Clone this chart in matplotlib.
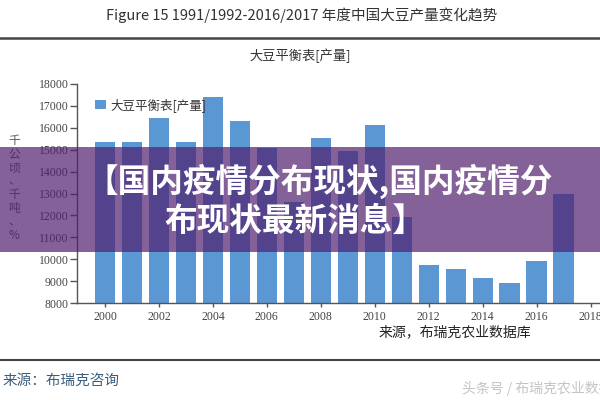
import matplotlib
matplotlib.use("Agg")
import matplotlib.pyplot as plt
from matplotlib.patches import Rectangle

plt.rcParams['font.family'] = ['Noto Sans CJK SC', 'DejaVu Sans']

years = list(range(2000, 2018))
production = [15370, 15370, 16460, 15370, 17390, 16310, 15060, 12630, 15520,
              14940, 16130, 11940, 9740, 9540, 9130, 8930, 9920, 12980]
xticks = list(range(2000, 2019, 2))
yticks = list(range(8000, 18001, 1000))

title = "Figure 15 1991/1992-2016/2017 年度中国大豆产量变化趋势"
subtitle = "大豆平衡表[产量]"
legend_label = "大豆平衡表[产量]"
ylabel = "千公顷、千吨、%"
source1 = "来源，布瑞克农业数据库"
source2 = "来源：布瑞克咨询"
watermark = "头条号 / 布瑞克农业数据"
banner1 = "【国内疫情分布现状,国内疫情分"
banner2 = "布现状最新消息】"

W, H = 600, 400
fig = plt.figure(figsize=(6, 4), dpi=100)
fig.patch.set_facecolor('white')

def P(x, y):
    return x / W, 1 - y / H

bar_color = '#5b98d3'
ax = fig.add_axes([77 / W, 1 - 303 / H, 527 / W, 219 / H])
ax.bar(years, production, width=0.75, color=bar_color, label=legend_label)
ax.set_xlim(1998.96, 2018.5)
ax.set_ylim(8000, 18000)
ax.set_xticks(xticks)
ax.set_yticks(yticks)
for s in ['top', 'right']:
    ax.spines[s].set_visible(False)
for s in ['left', 'bottom']:
    ax.spines[s].set_color('#555555')
    ax.spines[s].set_linewidth(1.0)
ax.tick_params(axis='y', direction='out', length=5, width=1, color='#555555',
               labelsize=8.5, labelcolor='#444444', pad=1)
ax.tick_params(axis='x', direction='out', length=3, width=1, color='#555555',
               labelsize=8.5, labelcolor='#444444', pad=3)
for lab in ax.get_xticklabels() + ax.get_yticklabels():
    lab.set_fontfamily('Liberation Serif')
ax.set_facecolor('white')

leg = ax.legend(loc='upper left', bbox_to_anchor=(0.025, 0.96), frameon=False,
                fontsize=9, handlelength=0.9, handleheight=0.8, handletextpad=0.3,
                borderaxespad=0)
for t in leg.get_texts():
    t.set_color('#333333')

# Titles and lines
fig.text(*P(302, 15), title, ha='center', va='center', fontsize=10.5, color='#333333')
fig.add_artist(plt.Line2D([0, 1], [1 - 38 / H, 1 - 38 / H], color='#444444', lw=1.8))
fig.text(*P(300, 56), subtitle, ha='center', va='center', fontsize=9.5, color='#333333')
fig.text(*P(14, 188), "\n".join(ylabel), ha='center', va='center', fontsize=8.5,
         color='#555555', linespacing=1.05)
fig.text(*P(455, 332), source1, ha='center', va='center', fontsize=10, color='#222222')
fig.add_artist(plt.Line2D([0, 1], [1 - 360 / H, 1 - 360 / H], color='#444444', lw=1.5))
fig.text(*P(3, 381), source2, ha='left', va='center', fontsize=10.5, color='#3b5f7d')
fig.text(*P(462, 388), watermark, ha='left', va='center', fontsize=10, color='#c4c4c4')

# Banner overlay
fig.add_artist(Rectangle((0, 1 - 252 / H), 1, 105 / H, transform=fig.transFigure,
                         facecolor=(80 / 255, 30 / 255, 110 / 255), alpha=0.7,
                         edgecolor='none', zorder=10))
fig.text(*P(319, 181), banner1, ha='center', va='center', fontsize=23.5,
         fontweight='heavy', color='white', zorder=11)
fig.text(*P(295, 221), banner2, ha='center', va='center', fontsize=23.5,
         fontweight='heavy', color='white', zorder=11)

fig.savefig('out.png', dpi=100)
